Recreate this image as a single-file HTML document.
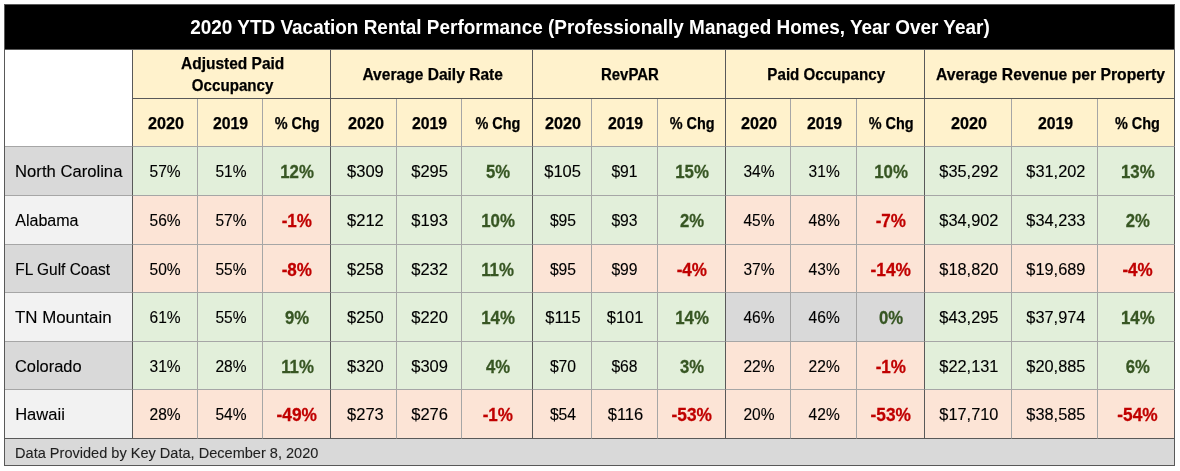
<!DOCTYPE html>
<html lang="en">
<head>
<meta charset="utf-8">
<title>2020 YTD Vacation Rental Performance</title>
<style>
html,body{margin:0;padding:0;background:#fff;}
body{width:1180px;height:471px;overflow:hidden;font-family:"Liberation Sans", sans-serif;color:#000;}
table{position:absolute;left:4px;top:4px;width:1171px;border-collapse:separate;border-spacing:0;table-layout:fixed;
  border-top:1px solid #595959;border-left:1px solid #595959;}
td,th{box-sizing:border-box;padding:0;margin:0;overflow:hidden;white-space:nowrap;text-align:center;vertical-align:top;
  border-right:1px solid #a6a6a6;border-bottom:1px solid #a6a6a6;font-weight:400;}
td span,th span{display:inline-block;transform-origin:50% 50%;--dx:0px;--nx:0px;--sx:1;transform:translateX(calc(var(--dx) + var(--nx))) scaleX(var(--sx));}
.ge{border-right-color:#595959;}
.be{border-bottom-color:#595959;}
.title{background:#000;color:#fff;font-weight:700;font-size:20.2px;line-height:24px;padding-top:10px;border-color:#595959;}
.corner{background:#fff;}
.grp{background:#fff2cc;font-weight:700;font-size:16.7px;line-height:22px;padding-top:14px;}
.grp.two{padding-top:3px;}
.grp span{display:block;}
.sub{background:#fff2cc;font-weight:700;font-size:16.0px;line-height:20px;padding-top:15px;}
.lab{text-align:left;padding-left:10.3px;font-size:16.6px;line-height:20px;padding-top:15px;}
.lab span,.foot span{transform-origin:0 50%;}
.v{font-size:15.8px;line-height:20px;padding-top:15px;}
.c{font-weight:700;font-size:18.2px;line-height:22px;padding-top:14px;}
.bg-g{background:#d9d9d9;} .bg-l{background:#f2f2f2;}
.g{background:#e2efda;} .p{background:#fce4d6;} .n{background:#d9d9d9;}
.g.c,.n.c{color:#375623;} .p.c{color:#c00000;}
.foot{background:#d9d9d9;text-align:left;padding-left:10.3px;font-size:15.1px;line-height:18px;padding-top:5px;color:#1f1f1f;border-color:#595959;}
tbody td:nth-child(2) span{--nx:-0.85px;}
tbody td:nth-child(5) span{--nx:0.25px;}
tbody td:nth-child(6) span{--nx:-0.6px;}
tbody td:nth-child(8) span{--nx:-0.6px;}
tbody td:nth-child(9) span{--nx:-1.1px;}
tbody td:nth-child(12) span{--nx:-0.8px;}
tbody td:nth-child(14) span{--nx:-0.4px;}
tbody td:nth-child(15) span{--nx:-0.4px;}
tbody td:nth-child(16) span{--nx:0.7px;}
thead tr:nth-child(3) th:nth-child(4) span{--nx:0.85px;}
thead tr:nth-child(3) th:nth-child(6) span{--nx:0.85px;}
thead tr:nth-child(3) th:nth-child(15) span{--nx:1.3px;}
.grp{-webkit-text-stroke:0.25px currentColor;}
.sub{-webkit-text-stroke:0.25px currentColor;}
.c{-webkit-text-stroke:0.28px currentColor;}
.v{-webkit-text-stroke:0.12px currentColor;}
.lab{-webkit-text-stroke:0.12px currentColor;}
.foot{-webkit-text-stroke:0.1px currentColor;}
.k-title{--dx:0.14px;--sx:0.9388;}
.k-h-adjusted-paid{--dx:1.18px;--sx:0.9285;}
.k-h-occupancy{--dx:1.10px;--sx:0.9057;}
.k-h-average-daily-rate{--dx:1.19px;--sx:0.9331;}
.k-h-revpar{--dx:0.91px;--sx:0.8967;}
.k-h-paid-occupancy{--dx:1.22px;--sx:0.9064;}
.k-h-average-revenue-per-property{--dx:1.02px;--sx:0.9410;}
.k-s-2020{--dx:1.31px;--sx:1.0114;}
.k-s-2019{--dx:0.76px;--sx:0.9887;}
.k-s-chg{--dx:0.20px;--sx:0.9025;}
.k-l-north-carolina{--dx:0.07px;--sx:1.0031;}
.k-rp2{--dx:1.15px;--sx:0.9835;}
.k-bp2{--dx:0.85px;--sx:0.9254;}
.k-ru3{--dx:1.60px;--sx:1.0455;}
.k-bp1{--dx:0.95px;--sx:0.9177;}
.k-ru2{--dx:1.41px;--sx:0.9946;}
.k-ru5{--dx:1.74px;--sx:1.0352;}
.k-l-alabama{--dx:0.18px;--sx:0.9674;}
.k-bn1{--dx:0.67px;--sx:0.9368;}
.k-l-fl-gulf-coast{--dx:0.24px;--sx:0.9320;}
.k-bn2{--dx:0.51px;--sx:0.9513;}
.k-l-tn-mountain{--dx:-0.01px;--sx:1.0168;}
.k-l-colorado{--dx:-0.07px;--sx:0.9889;}
.k-l-hawaii{--dx:0.14px;--sx:0.9973;}
.k-foot{--dx:0.05px;--sx:0.9641;}
</style>
</head>
<body>
<table>
<colgroup><col style="width:128px"><col style="width:65px"><col style="width:65px"><col style="width:68px"><col style="width:66px"><col style="width:65px"><col style="width:71px"><col style="width:59px"><col style="width:66px"><col style="width:68px"><col style="width:65px"><col style="width:66px"><col style="width:68px"><col style="width:87px"><col style="width:86px"><col style="width:77px"></colgroup>
<thead>
<tr style="height:45px"><th class="title ge be" colspan="16"><span class="k-title">2020 YTD Vacation Rental Performance (Professionally Managed Homes, Year Over Year)</span></th></tr>
<tr style="height:49px"><th class="corner ge" rowspan="2"></th><th class="grp two ge be" colspan="3"><span class="k-h-adjusted-paid">Adjusted Paid</span> <span class="k-h-occupancy">Occupancy</span></th><th class="grp ge be" colspan="3"><span class="k-h-average-daily-rate">Average Daily Rate</span></th><th class="grp ge be" colspan="3"><span class="k-h-revpar">RevPAR</span></th><th class="grp ge be" colspan="3"><span class="k-h-paid-occupancy">Paid Occupancy</span></th><th class="grp ge be" colspan="3"><span class="k-h-average-revenue-per-property">Average Revenue per Property</span></th></tr>
<tr style="height:48px"><th class="sub"><span class="k-s-2020">2020</span></th><th class="sub"><span class="k-s-2019">2019</span></th><th class="sub ge"><span class="k-s-chg">% Chg</span></th><th class="sub"><span class="k-s-2020">2020</span></th><th class="sub"><span class="k-s-2019">2019</span></th><th class="sub ge"><span class="k-s-chg">% Chg</span></th><th class="sub"><span class="k-s-2020">2020</span></th><th class="sub"><span class="k-s-2019">2019</span></th><th class="sub ge"><span class="k-s-chg">% Chg</span></th><th class="sub"><span class="k-s-2020">2020</span></th><th class="sub"><span class="k-s-2019">2019</span></th><th class="sub ge"><span class="k-s-chg">% Chg</span></th><th class="sub"><span class="k-s-2020">2020</span></th><th class="sub"><span class="k-s-2019">2019</span></th><th class="sub ge"><span class="k-s-chg">% Chg</span></th></tr>
</thead>
<tbody>
<tr style="height:49px"><td class="lab bg-g ge"><span class="k-l-north-carolina">North Carolina</span></td><td class="v g"><span class="k-rp2">57%</span></td><td class="v g"><span class="k-rp2">51%</span></td><td class="c g ge"><span class="k-bp2">12%</span></td><td class="v g"><span class="k-ru3">$309</span></td><td class="v g"><span class="k-ru3">$295</span></td><td class="c g ge"><span class="k-bp1">5%</span></td><td class="v g"><span class="k-ru3">$105</span></td><td class="v g"><span class="k-ru2">$91</span></td><td class="c g ge"><span class="k-bp2">15%</span></td><td class="v g"><span class="k-rp2">34%</span></td><td class="v g"><span class="k-rp2">31%</span></td><td class="c g ge"><span class="k-bp2">10%</span></td><td class="v g"><span class="k-ru5">$35,292</span></td><td class="v g"><span class="k-ru5">$31,202</span></td><td class="c g ge"><span class="k-bp2">13%</span></td></tr>
<tr style="height:49px"><td class="lab bg-l ge"><span class="k-l-alabama">Alabama</span></td><td class="v p"><span class="k-rp2">56%</span></td><td class="v p"><span class="k-rp2">57%</span></td><td class="c p ge"><span class="k-bn1">-1%</span></td><td class="v g"><span class="k-ru3">$212</span></td><td class="v g"><span class="k-ru3">$193</span></td><td class="c g ge"><span class="k-bp2">10%</span></td><td class="v g"><span class="k-ru2">$95</span></td><td class="v g"><span class="k-ru2">$93</span></td><td class="c g ge"><span class="k-bp1">2%</span></td><td class="v p"><span class="k-rp2">45%</span></td><td class="v p"><span class="k-rp2">48%</span></td><td class="c p ge"><span class="k-bn1">-7%</span></td><td class="v g"><span class="k-ru5">$34,902</span></td><td class="v g"><span class="k-ru5">$34,233</span></td><td class="c g ge"><span class="k-bp1">2%</span></td></tr>
<tr style="height:48px"><td class="lab bg-g ge"><span class="k-l-fl-gulf-coast">FL Gulf Coast</span></td><td class="v p"><span class="k-rp2">50%</span></td><td class="v p"><span class="k-rp2">55%</span></td><td class="c p ge"><span class="k-bn1">-8%</span></td><td class="v g"><span class="k-ru3">$258</span></td><td class="v g"><span class="k-ru3">$232</span></td><td class="c g ge"><span class="k-bp2">11%</span></td><td class="v p"><span class="k-ru2">$95</span></td><td class="v p"><span class="k-ru2">$99</span></td><td class="c p ge"><span class="k-bn1">-4%</span></td><td class="v p"><span class="k-rp2">37%</span></td><td class="v p"><span class="k-rp2">43%</span></td><td class="c p ge"><span class="k-bn2">-14%</span></td><td class="v p"><span class="k-ru5">$18,820</span></td><td class="v p"><span class="k-ru5">$19,689</span></td><td class="c p ge"><span class="k-bn1">-4%</span></td></tr>
<tr style="height:49px"><td class="lab bg-l ge"><span class="k-l-tn-mountain">TN Mountain</span></td><td class="v g"><span class="k-rp2">61%</span></td><td class="v g"><span class="k-rp2">55%</span></td><td class="c g ge"><span class="k-bp1">9%</span></td><td class="v g"><span class="k-ru3">$250</span></td><td class="v g"><span class="k-ru3">$220</span></td><td class="c g ge"><span class="k-bp2">14%</span></td><td class="v g"><span class="k-ru3">$115</span></td><td class="v g"><span class="k-ru3">$101</span></td><td class="c g ge"><span class="k-bp2">14%</span></td><td class="v n"><span class="k-rp2">46%</span></td><td class="v n"><span class="k-rp2">46%</span></td><td class="c n ge"><span class="k-bp1">0%</span></td><td class="v g"><span class="k-ru5">$43,295</span></td><td class="v g"><span class="k-ru5">$37,974</span></td><td class="c g ge"><span class="k-bp2">14%</span></td></tr>
<tr style="height:48px"><td class="lab bg-g ge"><span class="k-l-colorado">Colorado</span></td><td class="v g"><span class="k-rp2">31%</span></td><td class="v g"><span class="k-rp2">28%</span></td><td class="c g ge"><span class="k-bp2">11%</span></td><td class="v g"><span class="k-ru3">$320</span></td><td class="v g"><span class="k-ru3">$309</span></td><td class="c g ge"><span class="k-bp1">4%</span></td><td class="v g"><span class="k-ru2">$70</span></td><td class="v g"><span class="k-ru2">$68</span></td><td class="c g ge"><span class="k-bp1">3%</span></td><td class="v p"><span class="k-rp2">22%</span></td><td class="v p"><span class="k-rp2">22%</span></td><td class="c p ge"><span class="k-bn1">-1%</span></td><td class="v g"><span class="k-ru5">$22,131</span></td><td class="v g"><span class="k-ru5">$20,885</span></td><td class="c g ge"><span class="k-bp1">6%</span></td></tr>
<tr style="height:49px"><td class="lab bg-l ge be"><span class="k-l-hawaii">Hawaii</span></td><td class="v p be"><span class="k-rp2">28%</span></td><td class="v p be"><span class="k-rp2">54%</span></td><td class="c p ge be"><span class="k-bn2">-49%</span></td><td class="v p be"><span class="k-ru3">$273</span></td><td class="v p be"><span class="k-ru3">$276</span></td><td class="c p ge be"><span class="k-bn1">-1%</span></td><td class="v p be"><span class="k-ru2">$54</span></td><td class="v p be"><span class="k-ru3">$116</span></td><td class="c p ge be"><span class="k-bn2">-53%</span></td><td class="v p be"><span class="k-rp2">20%</span></td><td class="v p be"><span class="k-rp2">42%</span></td><td class="c p ge be"><span class="k-bn2">-53%</span></td><td class="v p be"><span class="k-ru5">$17,710</span></td><td class="v p be"><span class="k-ru5">$38,585</span></td><td class="c p ge be"><span class="k-bn2">-54%</span></td></tr>
</tbody>
<tfoot>
<tr style="height:27px"><td class="foot ge be" colspan="16"><span class="k-foot">Data Provided by Key Data, December 8, 2020</span></td></tr>
</tfoot>
</table>
</body>
</html>
